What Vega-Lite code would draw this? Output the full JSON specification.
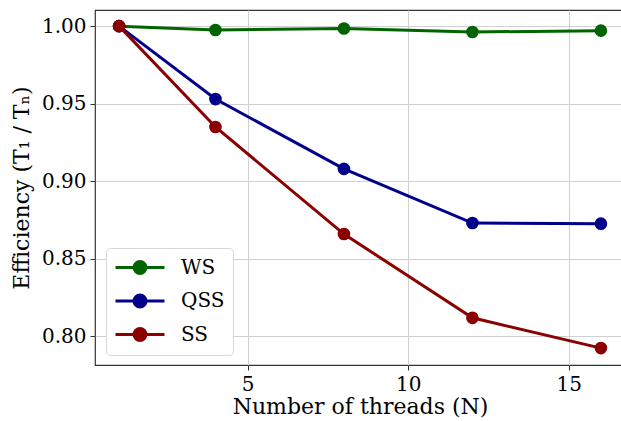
{
  "$schema": "https://vega.github.io/schema/vega-lite/v6.json",
  "autosize": {"type": "none"},
  "padding": {"left": 95, "top": 10, "right": 0, "bottom": 56},
  "width": 530,
  "height": 355,
  "config": {
    "font": "DejaVu Serif",
    "view": {"stroke": "#333333", "strokeWidth": 1.2},
    "axis": {
      "domain": false,
      "grid": true,
      "gridColor": "#d0d0d0",
      "gridWidth": 1,
      "tickColor": "#333333",
      "tickSize": 5,
      "tickWidth": 1,
      "labelFont": "DejaVu Serif",
      "labelFontSize": 20,
      "labelColor": "#000000",
      "labelPadding": 4,
      "titleFont": "DejaVu Serif",
      "titleFontSize": 22,
      "titleFontWeight": "normal",
      "titleColor": "#000000"
    }
  },
  "data": {
    "values": [
      {"threads": 1, "efficiency": 1.0, "scheduler": "WS"},
      {"threads": 4, "efficiency": 0.9975, "scheduler": "WS"},
      {"threads": 8, "efficiency": 0.9985, "scheduler": "WS"},
      {"threads": 12, "efficiency": 0.9962, "scheduler": "WS"},
      {"threads": 16, "efficiency": 0.9971, "scheduler": "WS"},
      {"threads": 1, "efficiency": 1.0, "scheduler": "QSS"},
      {"threads": 4, "efficiency": 0.953, "scheduler": "QSS"},
      {"threads": 8, "efficiency": 0.908, "scheduler": "QSS"},
      {"threads": 12, "efficiency": 0.8731, "scheduler": "QSS"},
      {"threads": 16, "efficiency": 0.8727, "scheduler": "QSS"},
      {"threads": 1, "efficiency": 1.0, "scheduler": "SS"},
      {"threads": 4, "efficiency": 0.935, "scheduler": "SS"},
      {"threads": 8, "efficiency": 0.866, "scheduler": "SS"},
      {"threads": 12, "efficiency": 0.812, "scheduler": "SS"},
      {"threads": 16, "efficiency": 0.7925, "scheduler": "SS"}
    ]
  },
  "encoding": {
    "x": {
      "field": "threads",
      "type": "quantitative",
      "scale": {"domain": [0.25, 16.75], "nice": false, "zero": false},
      "axis": {"values": [5, 10, 15], "title": "Number of threads (N)", "titlePadding": 2}
    },
    "y": {
      "field": "efficiency",
      "type": "quantitative",
      "scale": {"domain": [0.7816, 1.0104], "nice": false, "zero": false},
      "axis": {"values": [0.8, 0.85, 0.9, 0.95, 1.0], "format": ".2f", "title": "Efficiency (T₁ / Tₙ)", "titlePadding": 8}
    },
    "color": {
      "field": "scheduler",
      "type": "nominal",
      "sort": ["WS", "QSS", "SS"],
      "scale": {"domain": ["WS", "QSS", "SS"], "range": ["#006400", "#00008B", "#8B0000"]},
      "legend": {
        "title": null,
        "orient": "none",
        "legendX": 11,
        "legendY": 238,
        "padding": 8,
        "fillColor": "#ffffff",
        "strokeColor": "#d8d8d8",
        "cornerRadius": 4,
        "labelFont": "DejaVu Serif",
        "labelFontSize": 20,
        "labelColor": "#000000",
        "labelOffset": 44,
        "rowPadding": 8.5,
        "symbolType": "M-1,0L3.9,0M0.85,0A0.6,0.6 0 1,1 2.05,0A0.6,0.6 0 1,1 0.85,0Z",
        "symbolSize": 400,
        "symbolStrokeWidth": 3,
        "symbolOpacity": 1
      }
    }
  },
  "layer": [
    {"mark": {"type": "line", "strokeWidth": 3}},
    {"mark": {"type": "point", "filled": true, "size": 160, "opacity": 1}}
  ]
}
